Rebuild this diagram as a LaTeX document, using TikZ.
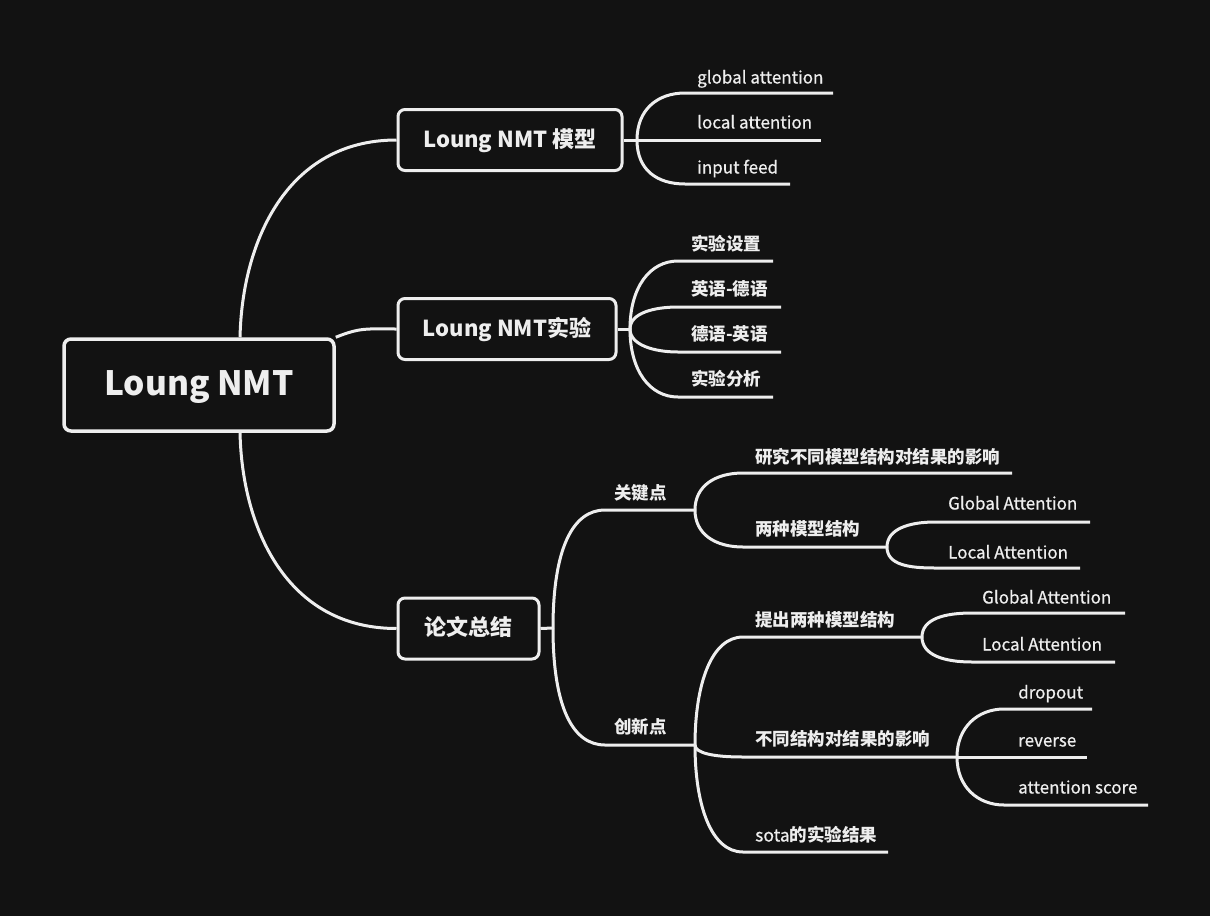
\documentclass[tikz,border=0pt]{standalone}
\usepackage{fontspec}
\setmainfont{Noto Sans CJK SC}
\newfontfamily\leaffont{Noto Sans CJK SC}[FakeBold=0.6]
\usetikzlibrary{calc}
\definecolor{bgdark}{HTML}{121212}
\definecolor{inkwhite}{HTML}{EEEEEE}
\tikzset{
  link/.style={draw=inkwhite, line width=3pt},
  topic/.style={draw=inkwhite, fill=bgdark, line width=3pt, rounded corners=7pt, text=inkwhite,
    font=\bfseries\fontsize{22}{26}\selectfont, inner sep=0pt, minimum height=61pt,
    text height=14pt, text depth=0pt},
  leaf/.style={text=inkwhite, anchor=west, inner sep=0pt, text height=13pt, text depth=0pt,
    font=\leaffont\fontsize{17}{21}\selectfont},
  leafcn/.style={leaf, font=\bfseries\fontsize{17.5}{21}\selectfont},
}

\begin{document}
\begin{tikzpicture}[x=1pt,y=-1pt]
                \fill[bgdark](0,0) rectangle (1210,916);
                \useasboundingbox (0,0) rectangle (1210,916);
                \node[topic, minimum width=270pt, minimum height=92pt, line width=3.5pt, text height=20pt,
                  font=\bfseries\fontsize{33.5}{40}\selectfont] (root) at (199,385){Loung NMT};
                \node[topic, minimum width=224pt] (model) at (510,140){Loung NMT 模型};
                \node[topic, minimum width=218pt] (expt) at (507,329){Loung NMT实验};
                \node[topic, minimum width=141pt] (summ) at (468.5,628.5){论文总结};
                \draw[link]($(root.north west)!0.65!(root.north east)$) .. controls +(2,-95) and +(-110,0) .. (model.west);
                \draw[link](root.north east) .. controls +(25,-10) and +(-30,0) .. (expt.west);
                \draw[link]($(root.south west)!0.65!(root.south east)$) .. controls +(2,95) and +(-110,0) .. (summ.west);
                % Loung NMT 模型
                \coordinate (mfork) at (637,140);
                \coordinate (ga) at (685,93); \coordinate (ga-e) at (833,93);
                \coordinate (la) at (685,140); \coordinate (la-e) at (821,140);
                \coordinate (inf) at (685,184); \coordinate (inf-e) at (790,184);
                \draw[link](model.east) -- (mfork);
                \draw[link](mfork) .. controls +(0,-30) and +(-28,0) .. (ga) -- (ga-e);
                \draw[link](mfork) -- (la) -- (la-e);
                \draw[link](mfork) .. controls +(0,30) and +(-28,0) .. (inf) -- (inf-e);
                \node[leaf] (ga-t) at (697,77){global attention};
                \node[leaf] (la-t) at (697,122){local attention};
                \node[leaf] (inf-t) at (697,167){input feed};
                % Loung NMT实验
                \coordinate (efork) at (630,329);
                \coordinate (sz) at (678,261); \coordinate (sz-e) at (773,261);
                \coordinate (ed) at (678,307); \coordinate (ed-e) at (781,307);
                \coordinate (de) at (678,352); \coordinate (de-e) at (781,352);
                \coordinate (fx) at (678,397); \coordinate (fx-e) at (773,397);
                \draw[link](expt.east) -- (efork);
                \draw[link](efork) .. controls +(0,-42) and +(-28,0) .. (sz) -- (sz-e);
                \draw[link](efork) .. controls +(0,-16) and +(-24,0) .. (ed) -- (ed-e);
                \draw[link](efork) .. controls +(0,16) and +(-24,0) .. (de) -- (de-e);
                \draw[link](efork) .. controls +(0,42) and +(-28,0) .. (fx) -- (fx-e);
                \node[leafcn] (sz-t) at (691,244){实验设置};
                \node[leafcn] (ed-t) at (691,289){英语-德语};
                \node[leafcn] (de-t) at (691,334){德语-英语};
                \node[leafcn] (fx-t) at (691,379){实验分析};
                % 论文总结
                \coordinate (sfork) at (553,628);
                \coordinate (kp) at (605,510); \coordinate (kp-e) at (695,510);
                \coordinate (cx) at (605,745); \coordinate (cx-e) at (695,745);
                \draw[link](summ.east) -- (sfork);
                \draw[link](sfork) .. controls +(0,-80) and +(-32,0) .. (kp) -- (kp-e);
                \draw[link](sfork) .. controls +(0,80) and +(-32,0) .. (cx) -- (cx-e);
                \node[leafcn] (kp-t) at (614,493){关键点};
                \node[leafcn] (cx-t) at (614,727){创新点};
                % 关键点
                \coordinate (yj) at (743,473); \coordinate (yj-e) at (1012,473);
                \coordinate (lz) at (743,547); \coordinate (lz-e) at (887,547);
                \draw[link](kp-e) .. controls +(0,-24) and +(-28,0) .. (yj) -- (yj-e);
                \draw[link](kp-e) .. controls +(0,24) and +(-28,0) .. (lz) -- (lz-e);
                \node[leafcn] (yj-t) at (755,457){研究不同模型结构对结果的影响};
                \node[leafcn] (lz-t) at (755,529){两种模型结构};
                \coordinate (gk) at (935,522); \coordinate (gk-e) at (1090,522);
                \coordinate (lk) at (935,568); \coordinate (lk-e) at (1080,568);
                \draw[link](lz-e) .. controls +(0,-18) and +(-26,0) .. (gk) -- (gk-e);
                \draw[link](lz-e) .. controls +(0,18) and +(-26,0) .. (lk) -- (lk-e);
                \node[leaf] (gk-t) at (948,503){Global Attention};
                \node[leaf] (lk-t) at (948,552){Local Attention};
                % 创新点
                \coordinate (tc) at (743,637); \coordinate (tc-e) at (922,637);
                \coordinate (bt) at (743,757); \coordinate (bt-e) at (957,757);
                \coordinate (so) at (743,852); \coordinate (so-e) at (888,852);
                \draw[link](cx-e) .. controls +(0,-60) and +(-32,0) .. (tc) -- (tc-e);
                \draw[link](cx-e) .. controls +(0,8) and +(-30,0) .. (bt) -- (bt-e);
                \draw[link](cx-e) .. controls +(0,60) and +(-32,0) .. (so) -- (so-e);
                \node[leafcn] (tc-t) at (755,620){提出两种模型结构};
                \node[leafcn] (bt-t) at (755,739){不同结构对结果的影响};
                \node[leafcn] (so-t) at (755,835){{\leaffont\mdseries sota}的实验结果};
                \coordinate (gt) at (972,613); \coordinate (gt-e) at (1125,613);
                \coordinate (lt) at (972,662); \coordinate (lt-e) at (1115,662);
                \draw[link](tc-e) .. controls +(0,-18) and +(-28,0) .. (gt) -- (gt-e);
                \draw[link](tc-e) .. controls +(0,18) and +(-28,0) .. (lt) -- (lt-e);
                \node[leaf] (gt-t) at (982,597){Global Attention};
                \node[leaf] (lt-t) at (982,644){Local Attention};
                \coordinate (dp) at (1004,709); \coordinate (dp-e) at (1092,709);
                \coordinate (rv) at (1004,757); \coordinate (rv-e) at (1087,757);
                \coordinate (as) at (1004,805); \coordinate (as-e) at (1148,805);
                \draw[link](bt-e) .. controls +(0,-30) and +(-26,0) .. (dp) -- (dp-e);
                \draw[link](bt-e) -- (rv) -- (rv-e);
                \draw[link](bt-e) .. controls +(0,30) and +(-26,0) .. (as) -- (as-e);
                \node[leaf] (dp-t) at (1018,692){dropout};
                \node[leaf] (rv-t) at (1018,740){reverse};
                \node[leaf] (as-t) at (1018,787){attention score};
            \end{tikzpicture}
\end{document}
